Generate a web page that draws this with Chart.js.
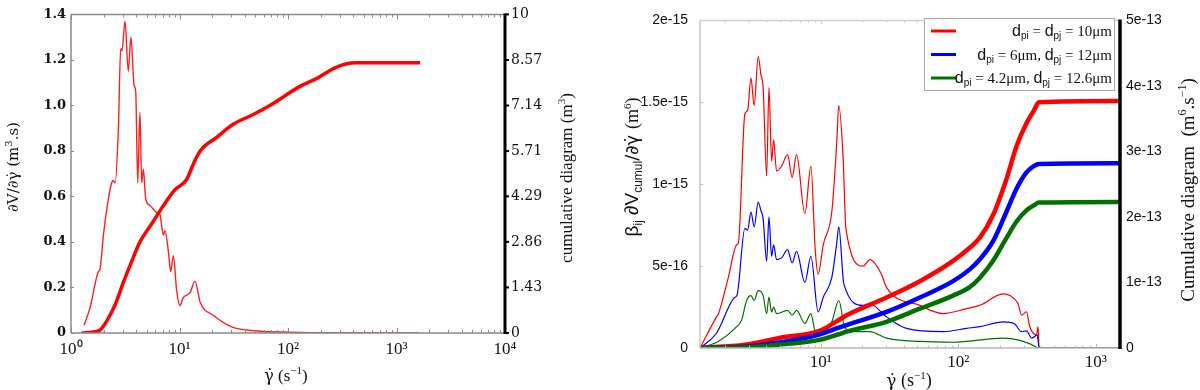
<!DOCTYPE html>
<html lang="en">
<head>
<meta charset="UTF-8">
<title>Shear rate distributions</title>
<style>
    body { margin: 0; background: #fff; }
    .panel { position: absolute; top: 0; width: 600px; height: 390px; }
    #left { left: 0; }
    #right { left: 600px; }
</style>
</head>
<body>
<div class="panel" id="left"><canvas id="rateChart" width="600" height="390"></canvas></div>
<div class="panel" id="right"><canvas id="kernelChart" width="600" height="390"></canvas></div>

<script src="https://cdn.jsdelivr.net/npm/chart.js"></script>
<script>
// ---------- left panel: dV/dgamma and cumulative volume ----------
// [shear rate (1/s), dV/dgamma (m3.s)]
const rateDensity = [
    [1.32, 0.034], [1.50, 0.112], [1.79, 0.27], [1.85, 0.28], [1.99, 0.43], [2.13, 0.54],
    [2.37, 0.66], [2.45, 0.67], [2.55, 0.66], [2.73, 0.89], [2.87, 1.25], [2.95, 1.24],
    [3.15, 1.37], [3.37, 1.15], [3.57, 1.30], [3.81, 1.09], [3.95, 1.06], [4.12, 0.66],
    [4.32, 0.97], [4.48, 0.66], [4.64, 0.72], [4.88, 0.59], [5.35, 0.56], [6.16, 0.53],
    [6.61, 0.52], [7.09, 0.43], [7.35, 0.45], [7.89, 0.36], [8.30, 0.27], [8.77, 0.34],
    [9.42, 0.185], [10.1, 0.12], [10.8, 0.155], [12.5, 0.177], [13.9, 0.228], [15.5, 0.135],
    [20.5, 0.078], [30.3, 0.027], [51, 0.009], [104, 0.004], [300, 0.001], [1590, 0]
];
// [shear rate (1/s), cumulative volume (m3)]
const rateCumul = [
    [1.25, 0], [1.6, 0.03], [1.85, 0.09], [2.29, 0.56], [2.64, 1.01], [3.03, 1.58],
    [3.62, 2.24], [4.32, 2.86], [5.55, 3.43], [7.09, 3.99], [9.09, 4.5], [11.6, 4.81],
    [13.4, 5.3], [15.5, 5.71], [22, 6.14], [31.3, 6.55], [47.9, 6.86], [68, 7.14],
    [129, 7.74], [184, 7.99], [262, 8.30], [347, 8.45], [430, 8.48], [1650, 8.48]
];
const rateTicks = [0, 0.2, 0.4, 0.6, 0.8, 1.0, 1.2, 1.4];
const rateTickLabels = ['0', '0.2', '0.4', '0.6', '0.8', '1.0', '1.2', '1.4'];
const cumulTicks = [0, 1.43, 2.86, 4.29, 5.71, 7.14, 8.57, 10];
const cumulTickLabels = ['0', '1.43', '2.86', '4.29', '5.71', '7.14', '8.57', '10'];

// ---------- right panel: kernel weighted distributions ----------
const seriesNames = ['dpi = dpj = 10μm', 'dpi = 6μm, dpj = 12μm', 'dpi = 4.2μm, dpj = 12.6μm'];
const seriesColors = ['#ff0000', '#0000ff', '#007000'];
// [shear rate, value in 1e-16 m6]
const kernelRed = [
    [1.32, 0], [1.74, 1.9], [1.80, 2.1], [2.12, 4.3], [2.44, 6.3], [2.51, 6.4], [2.80, 14.3],
    [2.93, 14.5], [3.10, 16.5], [3.27, 14.8], [3.50, 17.8], [3.66, 16.7], [3.80, 15.9],
    [4.03, 10.5], [4.19, 15.9], [4.38, 11.4], [4.53, 12.7], [4.76, 10.8], [5.18, 11.1],
    [5.72, 11.8], [6.18, 10.4], [6.65, 11.8], [7.65, 8.2], [8.46, 11.1], [9.1, 6.0],
    [9.55, 4.5], [10.4, 6.3], [12.0, 8.3], [13.0, 12.3], [13.5, 14.8], [14.5, 11.7],
    [15.2, 7.3], [20.3, 5.0], [22.7, 5.4], [27.6, 4.5], [30.0, 3.7], [52.5, 2.6], [77.5, 2.1],
    [115, 2.4], [143, 2.6], [212, 3.3], [237, 3.2], [272, 2.7], [288, 2.0], [313, 2.2],
    [331, 1.3], [371, 0.8], [380, 1.3], [387, 0], [1500, 0]
];
const kernelBlue = [
    [1.32, 0], [1.74, 0.9], [2.37, 3.1], [2.45, 3.2], [2.80, 7.3], [2.93, 7.2], [3.10, 8.3],
    [3.27, 7.4], [3.50, 8.9], [3.66, 8.4], [3.80, 7.9], [4.03, 5.3], [4.19, 8.0], [4.38, 5.6],
    [4.53, 6.3], [4.76, 5.4], [5.18, 5.5], [5.72, 6.0], [6.18, 5.2], [6.65, 5.9], [7.65, 4.0],
    [8.46, 5.6], [9.55, 2.2], [10.4, 3.1], [12.0, 4.3], [13.0, 6.3], [13.5, 7.4], [14.7, 3.9],
    [20.3, 2.6], [22.7, 2.7], [30, 1.9], [42, 1.2], [77.5, 1.0], [115, 1.2], [143, 1.3],
    [212, 1.6], [255, 1.5], [288, 1.0], [313, 1.05], [343, 0.6], [375, 0.8], [387, 0], [1500, 0]
];
const kernelGreen = [
    [1.32, 0], [1.79, 0.4], [2.37, 1.2], [2.65, 1.7], [2.88, 2.9], [3.10, 3.2], [3.27, 2.9],
    [3.50, 3.5], [3.80, 3.2], [4.03, 2.1], [4.19, 3.1], [4.38, 2.2], [4.53, 2.5], [4.76, 2.1],
    [5.72, 2.3], [6.18, 2.0], [6.65, 2.3], [7.65, 1.5], [8.46, 2.1], [9.04, 1.1], [10.0, 0.9],
    [12.0, 1.6], [13.5, 2.9], [15.0, 1.2], [18.2, 1.0], [22.7, 1.0], [30, 0.6], [52.5, 0.4],
    [91.6, 0.35], [212, 0.6], [272, 0.5], [343, 0.2], [387, 0], [1500, 0]
];
// [shear rate, cumulative in 1e-13 m6/s]
const cumulRed = [
    [1.32, 0], [2.8, 0.05], [4.9, 0.15], [10, 0.27], [13.3, 0.42], [15.4, 0.50], [30, 0.77],
    [52.5, 1.02], [91.6, 1.33], [121, 1.53], [143, 1.68], [179, 2.03], [224, 2.58],
    [265, 3.08], [313, 3.43], [356, 3.63], [385, 3.75], [1500, 3.77]
];
const cumulBlue = [
    [1.32, 0], [2.8, 0.02], [4.9, 0.08], [9.55, 0.2], [13.5, 0.31], [15.4, 0.35], [30, 0.55],
    [52.5, 0.77], [91.6, 1.02], [121, 1.2], [143, 1.35], [179, 1.63], [224, 2.08],
    [265, 2.43], [313, 2.68], [356, 2.78], [385, 2.81], [1500, 2.82]
];
const cumulGreen = [
    [1.32, 0], [2.8, 0.01], [4.9, 0.05], [9.55, 0.12], [13.5, 0.21], [15.4, 0.25], [30, 0.40],
    [52.5, 0.6], [91.6, 0.8], [121, 0.93], [143, 1.07], [179, 1.33], [224, 1.68],
    [265, 1.93], [313, 2.1], [356, 2.18], [385, 2.22], [1500, 2.23]
];
const kernelTicks = [0, 5, 10, 15, 20];
const kernelTickLabels = ['0', '5e-16', '1e-15', '1.5e-15', '2e-15'];
const kernelCumTicks = [0, 1, 2, 3, 4, 5];
const kernelCumTickLabels = ['0', '1e-13', '2e-13', '3e-13', '4e-13', '5e-13'];

const decades = [1, 10, 100, 1000, 10000];
const decadeLabels = ['10⁰', '10¹', '10²', '10³', '10⁴'];

Chart.defaults.animation = false;

const toXY = arr => arr.map(p => ({ x: p[0], y: p[1] }));

// text made of pieces: [text, font, dy]
function richText(ctx, parts, x, y, rot, align, color) {
    ctx.save();
    ctx.translate(x, y);
    ctx.rotate(rot);
    ctx.textBaseline = 'alphabetic';
    ctx.textAlign = 'left';
    ctx.fillStyle = color || '#111';
    let w = 0;
    const widths = parts.map(p => { ctx.font = p[1]; const m = ctx.measureText(p[0]).width; w += m; return m; });
    let cx = align === 'right' ? -w : (align === 'left' ? 0 : -w / 2);
    parts.forEach((p, i) => {
        ctx.font = p[1];
        ctx.fillText(p[0], cx, p[2] || 0);
        cx += widths[i];
    });
    ctx.restore();
}

function line(ctx, x1, y1, x2, y2) {
    ctx.beginPath();
    ctx.moveTo(x1, y1);
    ctx.lineTo(x2, y2);
    ctx.stroke();
}

// frame, inward minor ticks and the heavy right axis
const framePlugin = {
    id: 'frame',
    afterDatasetsDraw(chart, args, o) {
        const { ctx, chartArea: a, scales } = chart;
        const xs = scales.x;
        ctx.save();
        ctx.lineWidth = 1;
        for (let e = Math.floor(Math.log10(xs.min)); e <= Math.ceil(Math.log10(xs.max)); e++) {
            for (let m = 1; m < 10; m++) {
                const v = m * Math.pow(10, e);
                if (v < xs.min || v > xs.max) continue;
                const px = Math.round(xs.getPixelForValue(v)) + 0.5;
                const len = m === 1 ? o.major : o.minor;
                ctx.strokeStyle = o.bottomColor;
                line(ctx, px, a.bottom, px, a.bottom - len);
                ctx.strokeStyle = o.topColor;
                line(ctx, px, a.top, px, a.top + len);
            }
        }
        ctx.strokeStyle = o.leftColor;
        scales.y.ticks.forEach(t => {
            const py = Math.round(scales.y.getPixelForValue(t.value)) + 0.5;
            line(ctx, a.left, py, a.left + o.yTick, py);
        });
        ctx.lineWidth = o.frameWidth;
        ctx.strokeStyle = o.topColor;
        line(ctx, a.left, a.top, a.right, a.top);
        ctx.strokeStyle = o.leftColor;
        line(ctx, a.left, a.top, a.left, a.bottom);
        ctx.strokeStyle = o.bottomColor;
        line(ctx, a.left, a.bottom, a.right, a.bottom);
        ctx.strokeStyle = '#000';
        ctx.lineWidth = o.rightWidth;
        line(ctx, a.right, a.top - 1, a.right, a.bottom + 1);
        if (o.y2Tick) {
            ctx.lineWidth = 2;
            scales.y2.ticks.forEach(t => {
                const py = scales.y2.getPixelForValue(t.value);
                line(ctx, a.right, py, a.right + o.y2Tick, py);
            });
        }
        ctx.restore();
    }
};

// axis titles and legend drawn as rich text
const textPlugin = {
    id: 'richLabels',
    afterDraw(chart, args, o) {
        const ctx = chart.ctx;
        (o.items || []).forEach(it => richText(ctx, it.parts, it.x, it.y, it.rot || 0, it.align, it.color));
        if (o.legend) {
            const L = o.legend;
            ctx.save();
            ctx.fillStyle = '#fff';
            ctx.fillRect(L.x, L.y, L.w, L.h);
            ctx.strokeStyle = '#aaa';
            ctx.lineWidth = 1;
            ctx.strokeRect(L.x + 0.5, L.y + 0.5, L.w, L.h);
            L.rows.forEach((r, i) => {
                const y = L.y + L.first + i * L.step;
                ctx.strokeStyle = r.color;
                ctx.lineWidth = 3;
                line(ctx, L.x + 7, y, L.x + 32, y);
                richText(ctx, r.parts, L.x + L.w - 2, y + 5, 0, 'right');
            });
            ctx.restore();
        }
    }
};

function logAxis(fontSpec, padding, min, max) {
    return {
        type: 'logarithmic',
        min: min,
        max: max,
        grid: { display: false, drawTicks: false },
        border: { display: false },
        afterBuildTicks: s => { s.ticks = decades.filter(d => d >= s.min && d <= s.max).map(v => ({ value: v })); },
        ticks: {
            autoSkip: false,
            maxRotation: 0,
            padding: padding,
            color: '#111',
            font: fontSpec,
            callback: v => decadeLabels[decades.indexOf(v)]
        }
    };
}

// ---------- left chart ----------
const serif = 'DejaVu Serif';
const cm = 'Liberation Serif';
new Chart(document.getElementById('rateChart'), {
    type: 'line',
    data: {
        datasets: [
            {
                label: 'dV/dγ',
                data: toXY(rateDensity),
                yAxisID: 'y',
                borderColor: 'rgb(255,30,30)',
                borderWidth: 1.4,
                pointRadius: 0,
                cubicInterpolationMode: 'monotone',
                order: 2
            },
            {
                label: 'cumulative',
                data: toXY(rateCumul),
                yAxisID: 'y2',
                borderColor: '#ff0000',
                borderWidth: 3.5,
                pointRadius: 0,
                cubicInterpolationMode: 'monotone',
                order: 1
            }
        ]
    },
    options: {
        responsive: false,
        layout: { padding: { top: 6, left: 0, right: 0, bottom: 0 } },
        plugins: {
            legend: { display: false },
            tooltip: { enabled: false },
            frame: {
                major: 5, minor: 3, yTick: 3, y2Tick: 4, frameWidth: 1.5, rightWidth: 3,
                topColor: '#888', leftColor: '#888', bottomColor: '#888'
            },
            richLabels: {
                items: [
                    { parts: [['∂V/∂γ̇ (m', '15px ' + serif], ['3', '10px ' + serif, -6], ['.s)', '15px ' + serif]], x: 18, y: 167, rot: -Math.PI / 2 },
                    { parts: [['cumulative diagram (m', '17px ' + cm], ['3', '11px ' + cm, -7], [')', '17px ' + cm]], x: 572, y: 178, rot: -Math.PI / 2 },
                    { parts: [['γ̇', '16px ' + serif], [' (s', '17px ' + cm], ['−1', '11px ' + cm, -7], [')', '17px ' + cm]], x: 286, y: 381 }
                ]
            }
        },
        scales: {
            x: Object.assign(logAxis({ family: cm, size: 17 }, 6, 1, 10000), {
                afterFit: s => { s.height = 57; }
            }),
            y: {
                position: 'left',
                min: 0,
                max: 1.4,
                grid: { display: false, drawTicks: false },
                border: { display: false },
                afterBuildTicks: s => { s.ticks = rateTicks.map(v => ({ value: v })); },
                afterFit: s => { s.width = 71; },
                ticks: {
                    padding: 5,
                    color: '#111',
                    font: { family: serif, size: 13, weight: 'bold' },
                    callback: (v, i) => rateTickLabels[i]
                }
            },
            y2: {
                position: 'right',
                min: 0,
                max: 10,
                grid: { display: false, drawTicks: false },
                border: { display: false },
                afterBuildTicks: s => { s.ticks = cumulTicks.map(v => ({ value: v })); },
                afterFit: s => { s.width = 95; },
                ticks: {
                    padding: 6,
                    color: '#111',
                    font: { family: serif, size: 14 },
                    callback: (v, i) => cumulTickLabels[i]
                }
            }
        }
    },
    plugins: [framePlugin, textPlugin]
});

// ---------- right chart ----------
const sans = 'Liberation Sans';
const kernelSets = [kernelRed, kernelBlue, kernelGreen];
const cumulSets = [cumulRed, cumulBlue, cumulGreen];
const datasets = [];
kernelSets.forEach((d, i) => datasets.push({
    label: seriesNames[i] + ' (density)',
    data: toXY(d),
    yAxisID: 'y',
    borderColor: seriesColors[i],
    borderWidth: 1.2,
    pointRadius: 0,
    cubicInterpolationMode: 'monotone',
    order: 10 - i
}));
cumulSets.forEach((d, i) => datasets.push({
    label: seriesNames[i],
    data: toXY(d),
    yAxisID: 'y2',
    borderColor: seriesColors[i],
    borderWidth: 4.5,
    pointRadius: 0,
    cubicInterpolationMode: 'monotone',
    order: 5 - i
}));

function legendParts(a, b) {
    const d = ['d', '16px ' + sans];
    const rows = [d, ['pi', '10px ' + sans, 3], [a, '15px ' + cm]];
    if (b !== undefined) rows.push(d, ['pj', '10px ' + sans, 3], [b, '15px ' + cm]);
    return rows;
}

new Chart(document.getElementById('kernelChart'), {
    type: 'line',
    data: { datasets: datasets },
    options: {
        responsive: false,
        layout: { padding: { top: 16, left: 0, right: 0, bottom: 0 } },
        plugins: {
            legend: { display: false },
            tooltip: { enabled: false },
            frame: {
                major: 4, minor: 2.5, yTick: 3, y2Tick: 0, frameWidth: 1.5, rightWidth: 3.5,
                topColor: '#d0d0d0', leftColor: '#c4c4c4', bottomColor: '#b8b8b8'
            },
            richLabels: {
                items: [
                    { parts: [['β', '19px ' + sans], ['ij', '12px ' + sans, 4], [' ∂V', '19px ' + sans], ['cumul', '12px ' + sans, 4], ['/∂γ̇ ', '18px DejaVu Sans'], ['(m', '18px ' + cm], ['6', '11px ' + cm, -7], [')', '18px ' + cm]], x: 38, y: 167, rot: -Math.PI / 2 },
                    { parts: [['Cumulative diagram  (m', '19px ' + cm], ['6', '12px ' + cm, -8], ['.s', '19px ' + cm], ['−1', '12px ' + cm, -8], [')', '19px ' + cm]], x: 594, y: 190, rot: -Math.PI / 2 },
                    { parts: [['γ̇', '17px ' + serif], [' (s', '18px ' + cm], ['−1', '11px ' + cm, -7], [')', '18px ' + cm]], x: 309, y: 386 }
                ],
                legend: {
                    x: 324, y: 18, w: 190, h: 72, first: 13, step: 23.5,
                    rows: [
                        { color: seriesColors[0], parts: legendParts(' = ').concat([['d', '16px ' + sans], ['pj', '10px ' + sans, 3], [' = 10μm', '15px ' + cm]]) },
                        { color: seriesColors[1], parts: legendParts(' = 6μm, ', ' = 12μm') },
                        { color: seriesColors[2], parts: legendParts(' = 4.2μm, ', ' = 12.6μm') }
                    ]
                }
            }
        },
        scales: {
            x: Object.assign(logAxis({ family: cm, size: 17 }, 4, 1.32, 1500), {
                afterFit: s => { s.height = 42; }
            }),
            y: {
                position: 'left',
                min: 0,
                max: 20,
                grid: { display: false, drawTicks: false },
                border: { display: false },
                afterBuildTicks: s => { s.ticks = kernelTicks.map(v => ({ value: v })); },
                afterFit: s => { s.width = 100; },
                ticks: {
                    padding: 12,
                    color: '#111',
                    font: { family: sans, size: 14 },
                    callback: (v, i) => kernelTickLabels[i]
                }
            },
            y2: {
                position: 'right',
                min: 0,
                max: 5,
                grid: { display: false, drawTicks: false },
                border: { display: false },
                afterBuildTicks: s => { s.ticks = kernelCumTicks.map(v => ({ value: v })); },
                afterFit: s => { s.width = 80; },
                ticks: {
                    padding: 6,
                    color: '#111',
                    font: { family: sans, size: 14 },
                    callback: (v, i) => kernelCumTickLabels[i]
                }
            }
        }
    },
    plugins: [framePlugin, textPlugin]
});
</script>
</body>
</html>
